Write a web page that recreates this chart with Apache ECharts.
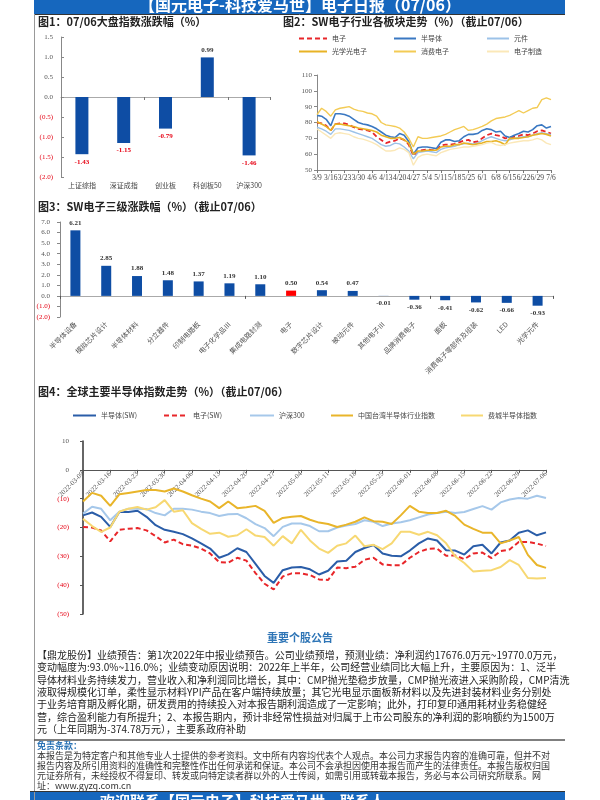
<!DOCTYPE html>
<html><head><meta charset="utf-8">
<script src="https://cdn.jsdelivr.net/npm/echarts@6/dist/echarts.min.js"></script>
<style>html,body{margin:0;padding:0;background:#fff}#c{width:600px;height:800px}</style>
</head><body><div id="c"></div>
<script>
// ---------- Chart 1 ----------
const indexNames = ['上证综指', '深证成指', '创业板', '科创板50', '沪深300'];
const indexChanges = [-1.43, -1.15, -0.79, 0.99, -1.46];

// ---------- Chart 2 ----------
const dates = ['3/9','3/11','3/14','3/16','3/18','3/21','3/23','3/25','3/28','3/30','4/1','4/4','4/6','4/8','4/11','4/13','4/15','4/18','4/20','4/22','4/25','4/27','4/29','5/2','5/4','5/6','5/9','5/11','5/13','5/16','5/18','5/20','5/23','5/25','5/27','5/30','6/1','6/3','6/6','6/8','6/10','6/13','6/15','6/17','6/20','6/22','6/24','6/27','6/29','7/1','7/4','7/6'];
const swElectronic = [80,79.5,78,75,79,79.5,79.5,78.5,77,76,75.5,75,74,71,69,67,68,68.5,70,69,66,59,62,62.5,63,62.5,62.5,65.5,66,66,66.5,67.5,68.5,69,67.5,68,70,72,73,72,71.5,70,70.5,71,71.5,72.5,72,73,74.5,75,74,73];
const swSemi = [84.5,84,82,78,85.5,85.5,85,84,82,80,79,78.5,77.5,76,74,72,71,70.5,73,72,68,60,64,64.5,64.5,64,63.5,67.5,69,69,68,68.5,71,72.5,72.5,73,75,76,75.5,74,74.5,71.5,70.5,72,73,74.5,74,75.5,78,78.5,76.5,77.5];
const swComponent = [77,76,74.5,72.5,76,76,75.5,75,74,73,72,71,70,68,66,65,65.5,67,66.5,64.5,62,57,61,61.5,62,61.5,61,63,64,64.5,65,66,66.5,67,66.5,67,68.5,70,71,70,69,68.5,69,70,70.5,71,71,72,73,73.5,73,72.5];
const swOptical = [80.5,79,77.5,75,79,79,78.5,78,77.5,76.5,76,75.5,75,74,72,71,70,70,70.5,69,67,60,62,62,62.5,62.5,62.5,64.5,65,65,66,66,67,66.5,66,66.5,67,68,68,68.5,67.5,66,70,70,70,70.5,71,72,72.5,73,72.5,71.5];
const swConsumer = [85,89,87,84,88,89,89.5,90,88.5,87.5,87,86,85.5,84,80,78.5,78,77.5,76.5,74,70,64.5,71,70,70,70.5,71,71.5,72.5,74,75.5,76.5,77.5,75,75.5,76.5,77.5,79,81,82.5,83,83.5,84.5,86,87.5,86,87.5,89,89.5,94.5,95.5,94.5];
const swManufacture = [76,74,72,70,73,73.5,73,72.5,71,70,69.5,68.5,67.5,66,64,62,62,62.5,64,63,61,53,58,59.5,60,59.5,59,61,62,63,63.5,64,64.5,64.5,65,65.5,66,67,67.5,66,65.5,66,67,67.5,68,68.5,68.5,69,70,69,67,66];

// ---------- Chart 3 ----------
const subNames = ['半导体设备','模拟芯片设计','半导体材料','分立器件','印制电路板','电子化学品Ⅲ','集成电路封测','电子','数字芯片设计','被动元件','其他电子Ⅲ','品牌消费电子','面板','消费电子零部件及组装','LED','光学元件'];
const subChanges = [6.21, 2.85, 1.88, 1.48, 1.37, 1.19, 1.10, 0.50, 0.54, 0.47, -0.01, -0.36, -0.41, -0.62, -0.66, -0.93];
const highlightName = '电子';

// ---------- Chart 4 ----------
const semiSW = [-15.8,-14.8,-16.3,-19.8,-14.6,-14.6,-14.2,-16.3,-19.2,-20.8,-21.5,-22.3,-23.8,-25.5,-27.3,-30.5,-29.3,-27.2,-28.5,-32.6,-36.8,-39.2,-34.8,-33.9,-33.7,-34.5,-36.3,-35,-31.8,-31.5,-28.5,-27.1,-26.1,-29,-29.8,-30,-28,-25.5,-23.8,-24.5,-27.9,-28,-29.4,-26.5,-26,-29,-25.2,-24.5,-21.8,-21,-22.7,-21.7];
const elecSW = [-19.8,-20,-21,-24.8,-20.8,-20.4,-20.2,-21,-23,-25.2,-24.2,-25.8,-26.3,-27.3,-29,-32,-32.2,-30.5,-31.5,-35.8,-39.5,-41.5,-37,-35.9,-35.9,-36.5,-38,-38.2,-33.9,-34.1,-33.6,-31.2,-30.5,-32.8,-33.1,-33.1,-30.5,-28.5,-27.4,-27.3,-29.8,-29.7,-31,-29,-28.7,-30.6,-28.2,-27.6,-25,-25,-25.6,-26.4];
const hs300 = [-15.2,-12.8,-13.5,-17.5,-14.5,-13.5,-13.5,-13.6,-15,-15.8,-13.5,-13.5,-13.8,-14.5,-15,-16,-15.4,-15.3,-16.8,-18.8,-20.2,-23,-19.8,-18.6,-18.6,-19.5,-21.3,-21.3,-20,-19.3,-18.8,-17.5,-18,-19.5,-18.6,-18.2,-17.5,-16.5,-15.5,-15,-14.5,-15,-14.6,-13.6,-12.6,-13.8,-11.3,-10.3,-9.8,-10,-9,-9.8];
const taiwanSemi = [-11,-8,-9,-12.5,-8.5,-8,-7.5,-7,-7,-7.5,-6.5,-7.5,-8.8,-10,-11,-13.3,-11,-13.3,-13,-12.5,-14.2,-18.4,-16.7,-16.3,-16,-17.3,-18.3,-18.8,-19.8,-19,-18,-16.5,-17.8,-18,-18.8,-15.8,-12.5,-14.5,-15,-15,-14.2,-16,-19,-20.5,-21.8,-21.8,-25.5,-24.5,-23.3,-29.5,-33,-34];
const phlxSemi = [-17,-19.5,-21.5,-20,-14.5,-13.5,-12.9,-13.8,-13,-10.5,-14.5,-14,-18.5,-20.5,-22.2,-21.8,-23.2,-22.7,-20.6,-22.8,-23.3,-26.3,-23,-25.5,-20.8,-24.5,-27.3,-28.8,-26.3,-25.5,-22.8,-26.5,-26,-27.5,-25.5,-21.5,-21.5,-22.5,-21.5,-22.7,-25.5,-30,-32.3,-35.3,-35,-34.8,-33.7,-31.3,-33,-37.5,-37.7,-37.5];

// ---------- Texts ----------
const headerText = '【国元电子-科技爱马世】电子日报（07/06）';
const titles = ['图1：07/06大盘指数涨跌幅（%）', '图2：SW电子行业各板块走势（%）（截止07/06）', '图3：SW电子三级涨跌幅（%）（截止07/06）', '图4：全球主要半导体指数走势（%）（截止07/06）'];
const noticeTitle = '重要个股公告';
const noticeLines = [
  '【鼎龙股份】业绩预告：第1次2022年中报业绩预告。公司业绩预增，预测业绩：净利润约17676.0万元~19770.0万元，',
  '变动幅度为:93.0%~116.0%；业绩变动原因说明：2022年上半年，公司经营业绩同比大幅上升，主要原因为：1、泛半',
  '导体材料业务持续发力，营业收入和净利润同比增长，其中：CMP抛光垫稳步放量，CMP抛光液进入采购阶段，CMP清洗',
  '液取得规模化订单，柔性显示材料YPI产品在客户端持续放量；其它光电显示面板新材料以及先进封装材料业务分别处',
  '于业务培育期及孵化期，研发费用的持续投入对本报告期利润造成了一定影响；此外，打印复印通用耗材业务稳健经',
  '营，综合盈利能力有所提升；2、本报告期内，预计非经常性损益对归属于上市公司股东的净利润的影响额约为1500万',
  '元（上年同期为-374.78万元），主要系政府补助'
];
const disclaimerTitle = '免责条款：';
const disclaimerLines = [
  '本报告是为特定客户和其他专业人士提供的参考资料。文中所有内容均代表个人观点。本公司力求报告内容的准确可靠，但并不对',
  '报告内容及所引用资料的准确性和完整性作出任何承诺和保证。本公司不会承担因使用本报告而产生的法律责任。本报告版权归国',
  '元证券所有，未经授权不得复印、转发或向特定读者群以外的人士传阅，如需引用或转载本报告，务必与本公司研究所联系。网',
  '址：www.gyzq.com.cn'
];
const footerText = '欢迎联系【国元电子】科技爱马世，联系人';

const SERIF = '"Liberation Serif","Noto Sans CJK SC",serif';
const CJK = '"Noto Sans CJK SC",sans-serif';
const BLUE_HEAD = '#1667BE';
const BAR_BLUE = '#0E4DA4';
const RED = '#E60012';

const chart = echarts.init(document.getElementById('c'), null, {renderer: 'canvas'});

const negColor = v => (Number(v) < 0 ? RED : '#555');
const parenFmt = d => v => { const n = Number(v); return n < 0 ? '(' + (-n).toFixed(d) + ')' : n.toFixed(d); };

// grid boxes
const g1 = {left: 61, top: 37, width: 209, height: 140};
const g2 = {left: 317, top: 75, width: 234, height: 95};
const g3 = {left: 60, top: 222, width: 493, height: 95};
const g4 = {left: 83, top: 441, width: 463, height: 173};
const grids = [g1, g2, g3, g4];

// y-axis ranges
const y1 = {min: -2, max: 1.5, interval: 0.5};
const y2 = {min: 50, max: 110, interval: 10};
const y3 = {min: -2, max: 7, interval: 1};
const y4 = {min: -50, max: 10, interval: 10};
// offset that moves a bottom axis up to the zero line of its grid
const zeroOffset = (g, y) => -(g.height * (0 - y.min) / (y.max - y.min));

const xAxes = [
  {gridIndex: 0, type: 'category', data: indexNames, position: 'bottom', axisLine: {show: false, onZero: false}, axisTick: {show: false},
   axisLabel: {fontSize: 7, color: '#444', fontFamily: CJK, margin: 5, interval: 0}},
  {gridIndex: 0, type: 'category', data: indexNames, position: 'bottom', offset: zeroOffset(g1, y1),
   axisLine: {show: true, onZero: false, lineStyle: {color: '#aaa'}},
   axisTick: {show: true, length: 3, lineStyle: {color: '#777'}}, axisLabel: {show: false}},
  {gridIndex: 1, type: 'category', data: dates, boundaryGap: false, axisLine: {show: true, onZero: false, lineStyle: {color: '#888'}},
   axisTick: {show: true, interval: 2, length: 3, lineStyle: {color: '#777'}},
   axisLabel: {interval: 2, fontSize: 7.5, color: '#444', fontFamily: SERIF, margin: 4, hideOverlap: false}},
  {gridIndex: 2, type: 'category', data: subNames, position: 'bottom', axisLine: {show: false, onZero: false}, axisTick: {show: false},
   axisLabel: {rotate: 45, fontSize: 7, color: '#555', fontFamily: CJK, margin: 6, interval: 0}},
  {gridIndex: 2, type: 'category', data: subNames, position: 'bottom', offset: zeroOffset(g3, y3),
   axisLine: {show: true, onZero: false, lineStyle: {color: '#aaa'}},
   axisTick: {show: true, length: 3, lineStyle: {color: '#555'}}, axisLabel: {show: false}},
  {gridIndex: 3, type: 'category', data: dates.map(d => { const p = d.split('/'); return '2022-' + p[0].padStart(2, '0') + '-' + p[1].padStart(2, '0'); }),
   boundaryGap: false, position: 'bottom', offset: zeroOffset(g4, y4),
   axisLine: {show: true, onZero: false, lineStyle: {color: '#555', width: 1}},
   axisTick: {show: true, interval: 2, length: 3, lineStyle: {color: '#555'}},
   axisLabel: {interval: 2, rotate: 45, fontSize: 7, color: '#555', fontFamily: SERIF, margin: 3}}
];

const yAxes = [
  Object.assign({gridIndex: 0, type: 'value', splitLine: {show: false},
   axisLine: {show: true, lineStyle: {color: '#888'}}, axisTick: {show: true, inside: true, length: 3, lineStyle: {color: '#888'}},
   axisLabel: {fontSize: 7, fontFamily: SERIF, color: negColor, formatter: parenFmt(1), margin: 8}}, y1),
  Object.assign({gridIndex: 1, type: 'value', splitLine: {show: false},
   axisLine: {show: true, lineStyle: {color: '#888'}}, axisTick: {show: true, length: 3, lineStyle: {color: '#888'}},
   axisLabel: {fontSize: 7, fontFamily: SERIF, color: '#555', margin: 5}}, y2),
  Object.assign({gridIndex: 2, type: 'value', splitLine: {show: false},
   axisLine: {show: true, lineStyle: {color: '#888'}}, axisTick: {show: true, length: 3, lineStyle: {color: '#888'}},
   axisLabel: {fontSize: 7, fontFamily: SERIF, color: negColor, formatter: parenFmt(1), margin: 10}}, y3),
  Object.assign({gridIndex: 3, type: 'value', splitLine: {show: false},
   axisLine: {show: true, lineStyle: {color: '#333', width: 1.5}}, axisTick: {show: true, length: 3, lineStyle: {color: '#555'}},
   axisLabel: {fontSize: 7, fontFamily: SERIF, color: negColor, formatter: parenFmt(0), margin: 14}}, y4)
];

const barLabel = (v, colorNeg) => ({
  show: true, position: v < 0 ? 'bottom' : 'top', distance: 4,
  color: v < 0 ? colorNeg : '#333', fontSize: 7, fontWeight: 'bold', fontFamily: SERIF,
  formatter: p => Number(p.value).toFixed(2)
});

const line = (name, data, xi, yi, color, width, dashed) => ({
  name, type: 'line', xAxisIndex: xi, yAxisIndex: yi, data, symbol: 'none', showSymbol: false, smooth: false,
  lineStyle: {color, width, type: dashed ? [5, 3] : 'solid'}, itemStyle: {color}, z: 3
});

const C_ELEC = '#E8262A', C_SEMI = '#3A78C2', C_COMP = '#9CC2E8', C_OPT = '#E8B325', C_CONS = '#F3CB55', C_MANU = '#FBE8B8';
const C4_SEMI = '#2A5DA8', C4_HS = '#A6C8EA', C4_TW = '#E9B52A', C4_PH = '#F7D872';

const series = [
  {name: '大盘指数', type: 'bar', xAxisIndex: 0, yAxisIndex: 0, barWidth: 13, itemStyle: {color: BAR_BLUE},
   data: indexChanges.map(v => ({value: v, label: barLabel(v, RED)}))},
  line('电子', swElectronic, 2, 1, C_ELEC, 1.8, true),
  line('半导体', swSemi, 2, 1, C_SEMI, 1.6, false),
  line('元件', swComponent, 2, 1, C_COMP, 1.4, false),
  line('光学光电子', swOptical, 2, 1, C_OPT, 1.6, false),
  line('消费电子', swConsumer, 2, 1, C_CONS, 1.4, false),
  line('电子制造', swManufacture, 2, 1, C_MANU, 1.4, false),
  {name: '三级涨跌幅', type: 'bar', xAxisIndex: 3, yAxisIndex: 2, barWidth: 10,
   data: subChanges.map((v, i) => ({value: v, itemStyle: {color: subNames[i] === highlightName ? '#FF0000' : BAR_BLUE}, label: barLabel(v, '#333')}))},
  line('半导体(SW)', semiSW, 5, 3, C4_SEMI, 2, false),
  line('电子(SW)', elecSW, 5, 3, C_ELEC, 2, true),
  line('沪深300', hs300, 5, 3, C4_HS, 2, false),
  line('中国台湾半导体行业指数', taiwanSemi, 5, 3, C4_TW, 2, false),
  line('费城半导体指数', phlxSemi, 5, 3, C4_PH, 2, false)
];

const lg = (name, left, top, w) => ({
  data: [name], left, top, orient: 'horizontal', itemWidth: w, itemHeight: 8, itemGap: 4, padding: 0,
  itemStyle: {opacity: 0}, lineStyle: {width: 2},
  textStyle: {fontSize: 7, color: '#444', fontFamily: CJK}, selectedMode: false
});
const legends = [
  lg('电子', 298, 35, 28), lg('半导体', 393, 35, 22), lg('元件', 486, 35, 22),
  lg('光学光电子', 298, 48, 28), lg('消费电子', 393, 48, 22), lg('电子制造', 486, 48, 22),
  lg('半导体(SW)', 72, 412, 23), lg('电子(SW)', 163, 412, 24), lg('沪深300', 249, 412, 24),
  lg('中国台湾半导体行业指数', 330, 412, 22), lg('费城半导体指数', 460, 412, 22)
];

const txt = (text, x, y, font, fill, align) => ({
  type: 'text', x, y, z: 100, silent: true,
  style: {text, font, fill, align: align || 'left', verticalAlign: 'middle', textAlign: align || 'left', textVerticalAlign: 'middle'}
});
const hline = (x1, y1, x2, y2, stroke, w) => ({type: 'line', z: 90, silent: true, shape: {x1, y1, x2, y2}, style: {stroke, lineWidth: w}});

const graphics = [
  {type: 'rect', z: 80, silent: true, shape: {x: 34, y: 0, width: 531, height: 14}, style: {fill: BLUE_HEAD}},
  hline(34, 14.5, 565, 14.5, '#333', 1),
  txt(headerText, 300, 5, 'bold 16px ' + CJK, '#fff', 'center'),
  hline(34.5, 14, 34.5, 800, '#999', 1),
  txt(titles[0], 38, 22, 'bold 11px ' + CJK, '#222'),
  txt(titles[1], 283, 22, 'bold 11px ' + CJK, '#222'),
  txt(titles[2], 38, 207, 'bold 11px ' + CJK, '#222'),
  txt(titles[3], 38, 392, 'bold 11px ' + CJK, '#222'),
  txt(noticeTitle, 300, 638, 'bold 11px ' + CJK, '#2E75B6', 'center')
];
noticeLines.forEach((t, i) => graphics.push(txt(t, 37, 655 + i * 12.4, '10px ' + CJK, '#222')));
graphics.push(hline(34, 740, 565, 740, '#555', 1.5));
graphics.push(txt(disclaimerTitle, 37, 746, 'bold 9px ' + CJK, '#2E75B6'));
disclaimerLines.forEach((t, i) => graphics.push(txt(t, 37, 756 + i * 10, '9px ' + CJK, '#333')));
graphics.push({type: 'rect', z: 80, silent: true, shape: {x: 30, y: 792, width: 535, height: 8}, style: {fill: BLUE_HEAD}});
graphics.push(hline(30, 791.5, 565, 791.5, '#333', 1));
graphics.push({type: 'text', x: 100, y: 794, z: 100, silent: true,
  style: {text: footerText, font: 'bold 15px ' + CJK, fill: '#fff', align: 'left', verticalAlign: 'top', textAlign: 'left', textVerticalAlign: 'top'}});

chart.setOption({
  animation: false,
  backgroundColor: '#fff',
  textStyle: {fontFamily: CJK},
  grid: grids,
  xAxis: xAxes,
  yAxis: yAxes,
  legend: legends,
  series,
  graphic: {elements: graphics}
});
</script></body></html>
